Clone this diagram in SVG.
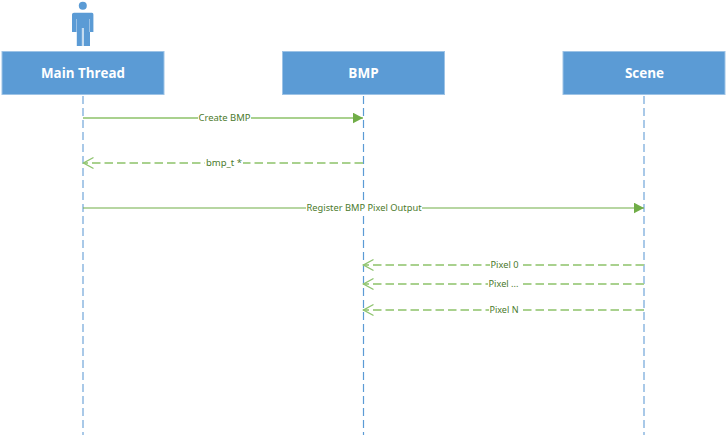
<svg xmlns="http://www.w3.org/2000/svg" width="727" height="435" viewBox="0 0 727 435">
<style>
.box{fill:#5b9bd5;stroke:#9dc3e6;stroke-width:1}
.title{font-family:"Open Sans","Liberation Sans",sans-serif;font-weight:700;font-size:13.5px;fill:#fff;text-anchor:middle}
.life{fill:none;stroke-dasharray:8 4}
.msg{fill:none;stroke:#a9d18e;stroke-width:2}
.dash{stroke-dasharray:8.500 4}
.lab{font-family:"Noto Sans","Liberation Sans",sans-serif;font-size:9.500px;fill:#4b7a2c;text-anchor:middle}
.bg{fill:#fff}
</style>
<defs>
<marker id="solid" markerUnits="userSpaceOnUse" markerWidth="11" markerHeight="11" refX="10" refY="5.500" orient="auto"><path d="M0 0.200L10 5.500L0 10.800Z" fill="#70ad47"/></marker>
<marker id="open" markerUnits="userSpaceOnUse" markerWidth="12" markerHeight="14" refX="11" refY="7" orient="auto"><path d="M0.500 1.500L10.500 7L0.500 12.500" fill="none" stroke="#8fc46f" stroke-width="1.400"/></marker>
</defs>
<g id="lifelines">
<path class="life" stroke="#a9c9e8" stroke-width="2" d="M83 96V435"/>
<path class="life" stroke="#5b9bd5" stroke-width="1.200" d="M363.500 96V435"/>
<path class="life" stroke="#a9c9e8" stroke-width="2" d="M644 96V435"/>
</g>
<g id="actor">
<circle cx="82.800" cy="5.700" r="4" fill="#5b9bd5"/>
<path fill="#5b9bd5" d="M74 12.800H92Q93.400 12.800 93.400 14.500V32H90V46H76.800V32H72V14.500Q72 12.800 74 12.800Z"/>
<path fill="none" stroke="#a9c9e8" stroke-width="0.800" d="M76.500 19V32M89.500 19V32"/>
<path fill="#c5dcf0" d="M81.800 28H84V46H81.800Z"/>
</g>
<g id="main-thread"><rect class="box" x="2" y="51.500" width="162" height="43"/><text class="title" x="83" y="78" textLength="84" lengthAdjust="spacingAndGlyphs">Main Thread</text></g>
<g id="bmp"><rect class="box" x="282.500" y="51.500" width="162" height="43"/><text class="title" x="363.500" y="78">BMP</text></g>
<g id="scene"><rect class="box" x="563" y="51.500" width="162" height="43"/><text class="title" x="644.500" y="78">Scene</text></g>
<g id="connectors">
<path class="msg" d="M83 118H363" marker-end="url(#solid)"/>
<rect class="bg" x="198" y="112" width="53" height="12"/><text class="lab" x="224.500" y="121" textLength="52" lengthAdjust="spacingAndGlyphs">Create BMP</text>
<path class="msg dash" d="M363 163H83" marker-end="url(#open)"/>
<rect class="bg" x="205" y="157" width="38" height="12"/><text class="lab" x="224" y="166" textLength="36" lengthAdjust="spacingAndGlyphs">bmp_t *</text>
<path d="M83 208H644" fill="none" stroke="#70ad47" stroke-width="1.200" marker-end="url(#solid)"/>
<rect class="bg" x="306" y="202" width="116" height="12"/><text class="lab" x="364" y="211" textLength="115" lengthAdjust="spacingAndGlyphs">Register BMP Pixel Output</text>
<path class="msg dash" d="M644 265H363" marker-end="url(#open)"/>
<rect class="bg" x="490" y="259" width="29" height="12"/><text class="lab" x="504.500" y="268" textLength="28" lengthAdjust="spacingAndGlyphs">Pixel 0</text>
<path class="msg dash" d="M644 284H363" marker-end="url(#open)"/>
<rect class="bg" x="488" y="278" width="31" height="12"/><text class="lab" x="503.500" y="287" textLength="30" lengthAdjust="spacingAndGlyphs">Pixel ...</text>
<path class="msg dash" d="M644 310H363" marker-end="url(#open)"/>
<rect class="bg" x="489" y="304" width="30" height="12"/><text class="lab" x="504" y="313" textLength="29" lengthAdjust="spacingAndGlyphs">Pixel N</text>
</g>
</svg>
